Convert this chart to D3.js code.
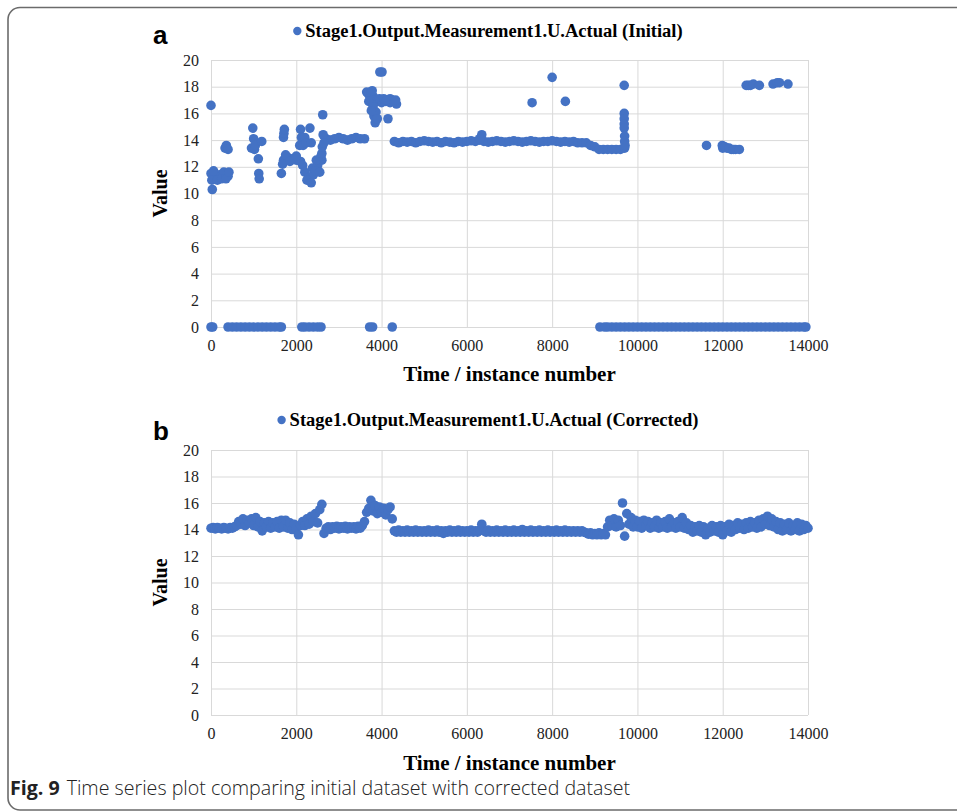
<!DOCTYPE html>
<html>
<head>
<meta charset="utf-8">
<script src="https://cdn.jsdelivr.net/npm/d3@7/dist/d3.min.js"></script>
<style>
  body { margin: 0; background: #fff; }
</style>
</head>
<body>
<svg id="fig" width="957" height="811"></svg>
<script>
// initial series: main band and zero readings, one value per 100 instances (null = no reading)
var instanceStep = 100;
var initialBand = [
  11.5, 11.2, 11.4, 11.6, 11.3, null, null, null, null, null,
  null, null, null, null, null, null, null, 12.5, 12.7, 12.6,
  12.5, 12.4, 11.6, 11.2, 11.4, 12.1, 12.5, 14.1, 14.0, 14.1,
  14.2, 14.1, 14.0, 14.1, 14.2, 14.1, 14.1, 17.4, 17.3, 16.9,
  16.8, 16.9, 16.8, 13.9, 13.8, 13.9, 13.85, 13.9, 13.8, 13.9,
  13.95, 13.9, 13.85, 13.9, 13.8, 13.9, 13.85, 13.8, 13.9, 13.85,
  13.9, 13.95, 13.9, 14.0, 13.9, 13.85, 13.9, 13.95, 13.9, 13.85,
  13.9, 13.95, 13.9, 13.85, 13.9, 13.95, 13.9, 13.85, 13.9, 13.9,
  13.95, 13.9, 13.85, 13.9, 13.85, 13.9, 13.8, 13.8, 13.8, 13.6,
  13.5, 13.3, 13.3, 13.3, 13.3, 13.3, 13.3, 13.4, null, null,
  null, null, null, null, null, null, null, null, null, null,
  null, null, null, null, null, null, null, null, null, null,
  13.4, 13.4, 13.3, 13.3, null, null, null, null, null, null,
  null, null, null, null, null, null, null, null, null, null,
  null
];
var initialZero = [
  0, null, null, null, 0, 0, 0, 0, 0, 0,
  0, 0, 0, 0, 0, 0, 0, null, null, null,
  null, null, 0, 0, 0, 0, null, null, null, null,
  null, null, null, null, null, null, null, null, null, null,
  null, null, null, null, null, null, null, null, null, null,
  null, null, null, null, null, null, null, null, null, null,
  null, null, null, null, null, null, null, null, null, null,
  null, null, null, null, null, null, null, null, null, null,
  null, null, null, null, null, null, null, null, null, null,
  null, null, null, 0, 0, 0, 0, 0, 0, 0,
  0, 0, 0, 0, 0, 0, 0, 0, 0, 0,
  0, 0, 0, 0, 0, 0, 0, 0, 0, 0,
  0, 0, 0, 0, 0, 0, 0, 0, 0, 0,
  0, 0, 0, 0, 0, 0, 0, 0, 0, 0,
  null
];
// scattered initial readings [instance, value]
var initialExtra = [
  [0, 16.6], [30, 10.3], [20, 11.0], [60, 11.7], [150, 11.0], [250, 11.1], [350, 11.1], [420, 11.6],
  [330, 13.4], [360, 13.6], [400, 13.3], [40, 0],
  [950, 13.4], [980, 14.9], [1000, 14.1], [1020, 13.3], [1040, 13.6],
  [1110, 12.6], [1120, 11.5], [1130, 11.1], [1190, 13.9], [1650, 0],
  [1650, 11.5], [1700, 14.2], [1710, 14.5], [1720, 14.8], [1680, 12.2], [1750, 12.9], [1850, 12.4], [2000, 12.8],
  [2080, 13.6], [2100, 14.8], [2120, 14.2], [2140, 13.9], [2160, 13.6], [2200, 14.2], [2230, 13.8],
  [2320, 14.9], [2350, 13.8], [2150, 12.1], [2250, 11.0], [2350, 10.8], [2380, 11.9], [2450, 11.7],
  [2470, 12.5], [2550, 11.6], [2580, 12.8], [2600, 13.0], [2620, 15.9], [2610, 13.5], [2630, 14.4], [2650, 13.8],
  [2130, 0], [2580, 0],
  [3650, 17.6], [3750, 17.6], [3780, 17.7], [3700, 16.9], [3800, 16.5], [3820, 15.8], [3850, 15.3],
  [3870, 16.1], [3900, 15.6], [3760, 16.2], [3960, 19.1], [4010, 19.1], [3950, 17.1], [4050, 17.1],
  [4150, 15.6], [4250, 17.0], [4350, 16.7], [4200, 17.1], [4120, 17.0], [4300, 16.9], [4330, 17.0],
  [3720, 0], [3790, 0], [4250, 0],
  [6350, 14.4], [6300, 14.1],
  [7530, 16.8], [8000, 18.7], [8310, 16.9],
  [9690, 18.1], [9690, 16.0], [9690, 15.6], [9690, 15.2], [9690, 14.9], [9700, 14.3], [9700, 13.9], [9710, 13.6],
  [11620, 13.6], [11990, 13.6], [12050, 13.5], [12150, 13.4], [12250, 13.3], [12390, 13.3],
  [12550, 18.1], [12600, 18.1], [12650, 18.1], [12720, 18.2], [12860, 18.1], [13180, 18.2], [13280, 18.3], [13330, 18.3], [13530, 18.2],
  [9120, 0], [9230, 0], [13950, 0]
];

// corrected series, one value per 50 instances
var correctedStep = 50;
var correctedValues = [
  14.1, 14.15, 14.05, 14.15, 14.1, 14.05, 14.15, 14.1, 14.05, 14.15, 14.1, 14.2, 14.3, 14.6, 14.4, 14.8, 14.3, 14.7, 14.5, 14.8,
  14.3, 14.9, 14.2, 14.6, 13.9, 14.5, 14.2, 14.6, 14.1, 14.5, 14.2, 14.6, 14.1, 14.7, 14.2, 14.7, 14.1, 14.5, 14.0, 14.4,
  14.1, 13.6, 14.3, 14.6, 14.3, 14.8, 14.4, 15.0, 14.6, 15.2, 14.5, 15.5, 15.9, 13.7, 14.1, 14.2, 14.0, 14.2, 14.1, 14.25,
  14.05, 14.2, 14.1, 14.25, 14.05, 14.2, 14.1, 14.2, 14.05, 14.25, 14.1, 14.3, 14.6, 15.3, 15.6, 16.2, 15.4, 15.8, 15.2, 15.7,
  15.3, 15.6, 15.1, 15.5, 15.7, 14.8, 13.9, 13.8, 13.95, 13.8, 13.9, 13.8, 13.95, 13.8, 13.9, 13.8, 13.95, 13.8, 13.9, 13.8,
  13.9, 13.8, 13.95, 13.8, 13.9, 13.8, 13.95, 13.8, 13.9, 13.7, 13.9, 13.8, 13.95, 13.8, 13.9, 13.8, 13.95, 13.8, 13.9, 13.8,
  13.9, 13.8, 13.95, 13.8, 13.9, 13.8, 13.95, 14.4, 13.9, 13.8, 13.95, 13.8, 13.9, 13.8, 13.95, 13.8, 13.9, 13.8, 13.95, 13.8,
  13.9, 13.8, 13.95, 13.8, 13.9, 13.8, 14.0, 13.8, 13.9, 13.8, 13.95, 13.8, 13.9, 13.8, 13.95, 13.8, 13.9, 13.8, 13.95, 13.8,
  13.9, 13.8, 13.95, 13.8, 13.9, 13.8, 13.95, 13.8, 13.9, 13.8, 13.9, 13.8, 13.9, 13.8, 13.9, 13.8, 13.75, 13.65, 13.75, 13.6,
  13.7, 13.6, 13.75, 13.6, 13.7, 13.6, 14.2, 14.7, 14.3, 14.8, 14.2, 14.7, 14.3, 16.0, 13.5, 15.2, 14.4, 14.9, 14.2, 14.7,
  14.2, 14.6, 14.1, 14.7, 14.3, 14.6, 14.1, 14.5, 14.2, 14.7, 14.1, 14.5, 14.2, 14.6, 14.1, 14.8, 14.2, 14.5, 14.1, 14.6,
  14.2, 14.9, 14.1, 14.5, 14.0, 14.3, 13.8, 14.2, 13.9, 14.3, 13.8, 14.2, 13.6, 14.1, 13.8, 14.3, 13.9, 14.2, 13.8, 14.3,
  13.6, 14.2, 13.9, 14.4, 13.8, 14.3, 14.0, 14.5, 14.1, 14.4, 14.0, 14.5, 14.1, 14.6, 14.2, 14.5, 14.1, 14.7, 14.2, 14.8,
  14.4, 15.0, 14.3, 14.8, 14.2, 14.6, 14.0, 14.5, 13.9, 14.4, 14.0, 14.5, 13.9, 14.3, 14.0, 14.5, 13.9, 14.4, 14.0, 14.3,
  14.1
];

var yTicks = [0, 2, 4, 6, 8, 10, 12, 14, 16, 18, 20];
var xTicks = [0, 2000, 4000, 6000, 8000, 10000, 12000, 14000];

var dotColor = "#4472C4";
var serif = "'Liberation Serif', 'Times New Roman', serif";
var sans = "'Liberation Sans', Arial, sans-serif";
var plotLeft = 211, plotRight = 808;

var svg = d3.select("#fig");

// outer frame with rounded left corners
svg.append("path")
  .attr("d", "M957,7.5 H20 A12,12 0 0 0 8,19.5 V798 A12,12 0 0 0 20,810 H957")
  .attr("fill", "none")
  .attr("stroke", "#6b6b6b")
  .attr("stroke-width", 1.6);

function buildInitial() {
  var pts = [];
  initialBand.forEach(function(v, i) { if (v != null) pts.push([i * instanceStep, v]); });
  initialZero.forEach(function(v, i) { if (v != null) pts.push([i * instanceStep, v]); });
  initialExtra.forEach(function(p) { pts.push(p); });
  return pts;
}

function buildCorrected() {
  return correctedValues.map(function(v, i) { return [i * correctedStep, v]; });
}

function drawPanel(cfg) {
  var x = d3.scaleLinear().domain([0, 14000]).range([plotLeft, plotRight]);
  var y = d3.scaleLinear().domain([0, 20]).range([cfg.bottom, cfg.top]);
  var g = svg.append("g");

  // gridlines
  g.append("g")
    .attr("transform", "translate(" + plotLeft + ",0)")
    .call(d3.axisLeft(y).tickValues(yTicks).tickSize(-(plotRight - plotLeft)).tickFormat(""))
    .call(function(s) { s.select(".domain").remove(); s.selectAll("line").attr("stroke", "#d9d9d9"); });
  g.append("g")
    .attr("transform", "translate(0," + cfg.bottom + ")")
    .call(d3.axisBottom(x).tickValues(xTicks).tickSize(-(cfg.bottom - cfg.top)).tickFormat(""))
    .call(function(s) { s.select(".domain").remove(); s.selectAll("line").attr("stroke", "#d9d9d9"); });

  // tick labels
  g.append("g")
    .attr("transform", "translate(" + (plotLeft - 12) + ",0)")
    .call(d3.axisLeft(y).tickValues(yTicks).tickSize(0).tickPadding(0))
    .call(function(s) {
      s.select(".domain").remove();
      s.selectAll("text").attr("font-size", 16).attr("fill", "#222")
        .style("font-family", serif);
    });
  g.append("g")
    .attr("transform", "translate(0," + (cfg.bottom + 13) + ")")
    .call(d3.axisBottom(x).tickValues(xTicks).tickSize(0).tickPadding(0).tickFormat(d3.format("d")))
    .call(function(s) {
      s.select(".domain").remove();
      s.selectAll("text").attr("font-size", 16).attr("fill", "#222")
        .style("font-family", serif);
    });

  // points
  g.append("g").selectAll("circle")
    .data(cfg.points)
    .enter().append("circle")
    .attr("cx", function(d) { return x(d[0]); })
    .attr("cy", function(d) { return y(d[1]); })
    .attr("r", 4.8)
    .attr("fill", dotColor);

  // axis titles
  g.append("text")
    .attr("transform", "translate(167," + ((cfg.top + cfg.bottom) / 2) + ") rotate(-90)")
    .attr("text-anchor", "middle")
    .style("font-family", serif)
    .attr("font-weight", "bold")
    .attr("font-size", 20)
    .text("Value");
  g.append("text")
    .attr("x", (plotLeft + plotRight) / 2)
    .attr("y", cfg.titleY)
    .attr("text-anchor", "middle")
    .style("font-family", serif)
    .attr("font-weight", "bold")
    .attr("font-size", 21)
    .text("Time / instance number");

  // legend
  var lg = g.append("g");
  lg.append("circle").attr("cx", 0).attr("cy", 0).attr("r", 4.2).attr("fill", dotColor);
  var lt = lg.append("text")
    .attr("x", 8).attr("y", 6)
    .style("font-family", serif)
    .attr("font-weight", "bold")
    .attr("font-size", 18.5)
    .text(cfg.legend);
  var w = 8 + lt.node().getComputedTextLength();
  lg.attr("transform", "translate(" + (490 - w / 2) + "," + cfg.legendY + ")");

  // panel letter
  g.append("text")
    .attr("x", 153).attr("y", cfg.letterY)
    .style("font-family", sans)
    .attr("font-weight", "bold")
    .attr("font-size", 26)
    .text(cfg.letter);
}

drawPanel({
  top: 60, bottom: 327, titleY: 381, legendY: 31, letterY: 44, letter: "a",
  legend: "Stage1.Output.Measurement1.U.Actual (Initial)", points: buildInitial()
});
drawPanel({
  top: 450, bottom: 715, titleY: 770, legendY: 420, letterY: 440, letter: "b",
  legend: "Stage1.Output.Measurement1.U.Actual (Corrected)", points: buildCorrected()
});

// caption
var cap = svg.append("text")
  .attr("x", 10).attr("y", 795)
  .style("font-family", "'Open Sans', 'Noto Sans', sans-serif")
  .attr("font-size", 20)
  .attr("fill", "#222")
  .attr("textLength", 620)
  .attr("lengthAdjust", "spacingAndGlyphs");
cap.append("tspan").attr("font-weight", "bold").text("Fig. 9");
cap.append("tspan").attr("dx", 7).attr("font-weight", 300).text("Time series plot comparing initial dataset with corrected dataset");
</script>
</body>
</html>
